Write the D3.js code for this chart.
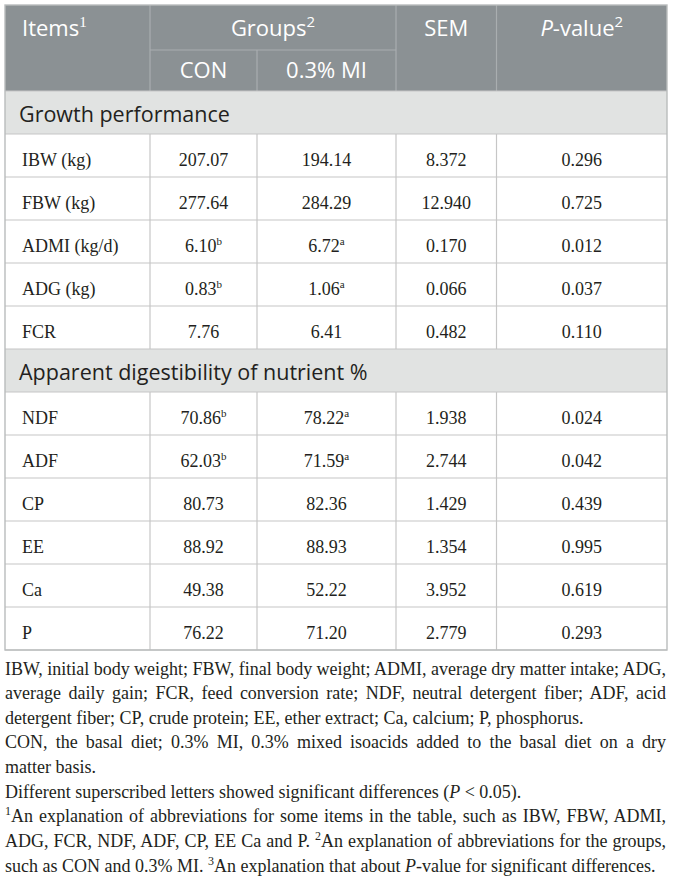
<!DOCTYPE html>
<html><head><meta charset="utf-8">
<script src="https://cdn.jsdelivr.net/npm/d3@7"></script>
<style>
html,body{margin:0;padding:0;background:#fff;}
svg{display:block;}
</style></head><body><div id="wrap"></div><script>
// ---------- data ----------
const sections = ["Growth performance", "Apparent digestibility of nutrient %"];
const items = ["IBW (kg)", "FBW (kg)", "ADMI (kg/d)", "ADG (kg)", "FCR", "NDF", "ADF", "CP", "EE", "Ca", "P"];
const itemSection = [0, 0, 0, 0, 0, 1, 1, 1, 1, 1, 1];
const conValues = [207.07, 277.64, 6.10, 0.83, 7.76, 70.86, 62.03, 80.73, 88.92, 49.38, 76.22];
const conSup = ["", "", "b", "b", "", "b", "b", "", "", "", ""];
const miValues = [194.14, 284.29, 6.72, 1.06, 6.41, 78.22, 71.59, 82.36, 88.93, 52.22, 71.20];
const miSup = ["", "", "a", "a", "", "a", "a", "", "", "", ""];
const semValues = [8.372, 12.940, 0.170, 0.066, 0.482, 1.938, 2.744, 1.429, 1.354, 3.952, 2.779];
const pValues = [0.296, 0.725, 0.012, 0.037, 0.110, 0.024, 0.042, 0.439, 0.995, 0.619, 0.293];
const groupLabels = ["CON", "0.3% MI"];
const columnKeys = ["item", "con", "mi", "sem", "p"];

const footnotes = [
  {segs: [{t: "IBW, initial body weight; FBW, final body weight; ADMI, average dry matter intake; ADG,"}], justify: true},
  {segs: [{t: "average daily gain; FCR, feed conversion rate; NDF, neutral detergent fiber; ADF, acid"}], justify: true},
  {segs: [{t: "detergent fiber; CP, crude protein; EE, ether extract; Ca, calcium; P, phosphorus."}], justify: false},
  {segs: [{t: "CON, the basal diet; 0.3% MI, 0.3% mixed isoacids added to the basal diet on a dry"}], justify: true},
  {segs: [{t: "matter basis."}], justify: false},
  {segs: [{t: "Different superscribed letters showed significant differences ("}, {t: "P", it: true}, {t: " < 0.05)."}], justify: false},
  {segs: [{t: "1", sup: true}, {t: "An explanation of abbreviations for some items in the table, such as IBW, FBW, ADMI,"}], justify: true},
  {segs: [{t: "ADG, FCR, NDF, ADF, CP, EE Ca and P. "}, {t: "2", sup: true}, {t: "An explanation of abbreviations for the groups,"}], justify: true},
  {segs: [{t: "such as CON and 0.3% MI. "}, {t: "3", sup: true}, {t: "An explanation that about "}, {t: "P", it: true}, {t: "-value for significant differences."}], justify: false}
];

// ---------- layout ----------
const W = 673, H = 880;
const sans = "'Open Sans', 'Noto Sans', sans-serif";
const serif = "'Liberation Serif', 'Times New Roman', serif";
const txt = "#231f20";
const headBg = "#8b9194", headLine = "#a9aeb0", secBg = "#e1e3e2", grid = "#c6c6c6";

const colEdges = [5, 150, 257, 396, 496.5, 667];
const tableTop = 5, headMid = 50, headBottom = 91, tableBottom = 650;

const rows = [];
sections.forEach((s, si) => {
  rows.push({type: "section", label: s});
  items.forEach((it, i) => { if (itemSection[i] === si) rows.push({type: "data", i}); });
});

const y = d3.scaleBand().domain(d3.range(rows.length)).range([headBottom, tableBottom]);
const colLeft = d3.scaleOrdinal().domain(columnKeys).range(colEdges.slice(0, 5));
const colRight = d3.scaleOrdinal().domain(columnKeys).range(colEdges.slice(1));
const colCenter = k => (colLeft(k) + colRight(k)) / 2;
const f2 = d3.format(".2f"), f3 = d3.format(".3f");

const svg = d3.select("#wrap").append("svg").attr("width", W).attr("height", H);

function rich(textSel, segs, opts) {
  opts = opts || {};
  const supSize = opts.supSize || 11, shift = opts.shift || 7;
  let raised = false;
  segs.forEach(s => {
    const ts = textSel.append("tspan").text(s.t);
    if (s.it) ts.attr("font-style", "italic");
    if (s.sup) {
      ts.attr("font-size", supSize).attr("dy", -shift);
      if (s.font) ts.attr("font-family", s.font);
      raised = true;
    } else if (raised) {
      ts.attr("dy", shift); raised = false;
    }
  });
  return textSel;
}

// ---------- header ----------
svg.append("rect").attr("x", colEdges[0]).attr("y", tableTop)
  .attr("width", colEdges[5] - colEdges[0]).attr("height", headBottom - tableTop).attr("fill", headBg);

const hl = svg.append("g").attr("stroke", headLine).attr("stroke-width", 1.2);
[colEdges[1], colEdges[3], colEdges[4]].forEach(x =>
  hl.append("line").attr("x1", x).attr("x2", x).attr("y1", tableTop).attr("y2", headBottom));
hl.append("line").attr("x1", colEdges[2]).attr("x2", colEdges[2]).attr("y1", headMid).attr("y2", headBottom);
hl.append("line").attr("x1", colEdges[1]).attr("x2", colEdges[3]).attr("y1", headMid).attr("y2", headMid);

const hg = svg.append("g").attr("font-family", sans).attr("font-size", 22).attr("fill", "#fff");
rich(hg.append("text").attr("x", 22).attr("y", 36),
  [{t: "Items"}, {t: "1", sup: true, font: serif}], {supSize: 15, shift: 9});
rich(hg.append("text").attr("x", (colEdges[1] + colEdges[3]) / 2).attr("y", 36).attr("text-anchor", "middle"),
  [{t: "Groups"}, {t: "2", sup: true}], {supSize: 15, shift: 9});
hg.append("text").attr("x", colCenter("sem")).attr("y", 36).attr("text-anchor", "middle").text("SEM");
rich(hg.append("text").attr("x", colCenter("p")).attr("y", 36).attr("text-anchor", "middle"),
  [{t: "P", it: true}, {t: "-value"}, {t: "2", sup: true}], {supSize: 15, shift: 9});
hg.selectAll("text.grp").data(groupLabels).join("text").attr("class", "grp")
  .attr("x", (d, i) => colCenter(i === 0 ? "con" : "mi")).attr("y", 78)
  .attr("text-anchor", "middle").text(d => d);

// ---------- body ----------
const rowG = svg.append("g").selectAll("g").data(rows).join("g")
  .attr("transform", (d, i) => `translate(0,${y(i)})`);

rowG.filter(d => d.type === "section").append("rect")
  .attr("x", colEdges[0]).attr("width", colEdges[5] - colEdges[0])
  .attr("height", y.bandwidth()).attr("fill", secBg);

// grid lines
const gl = svg.append("g").attr("stroke", grid).attr("stroke-width", 1.2);
d3.range(rows.length + 1).forEach(i => {
  const yy = i < rows.length ? y(i) : tableBottom;
  gl.append("line").attr("x1", colEdges[0]).attr("x2", colEdges[5]).attr("y1", yy).attr("y2", yy);
});
rows.forEach((r, i) => {
  if (r.type !== "data") return;
  colEdges.slice(1, 5).forEach(x =>
    gl.append("line").attr("x1", x).attr("x2", x).attr("y1", y(i)).attr("y2", y(i) + y.bandwidth()));
});
// outer border
svg.append("rect").attr("x", colEdges[0]).attr("y", tableTop)
  .attr("width", colEdges[5] - colEdges[0]).attr("height", tableBottom - tableTop)
  .attr("fill", "none").attr("stroke", "#b9bcbd").attr("stroke-width", 1.4);

rowG.filter(d => d.type === "section").append("text")
  .attr("x", 19).attr("y", 30.7).attr("font-family", sans).attr("font-size", 21.5)
  .attr("fill", txt).text(d => d.label);

const dataRows = rowG.filter(d => d.type === "data");
const bodyText = (sel, x, anchor) => sel.append("text").attr("x", x).attr("y", 32)
  .attr("font-family", serif).attr("font-size", 18).attr("fill", txt).attr("text-anchor", anchor);

dataRows.each(function(d) {
  const g = d3.select(this), i = d.i;
  bodyText(g, 22, "start").text(items[i]);
  rich(bodyText(g, colCenter("con"), "middle"), [{t: f2(conValues[i])}].concat(conSup[i] ? [{t: conSup[i], sup: true}] : []));
  rich(bodyText(g, colCenter("mi"), "middle"), [{t: f2(miValues[i])}].concat(miSup[i] ? [{t: miSup[i], sup: true}] : []));
  bodyText(g, colCenter("sem"), "middle").text(f3(semValues[i]));
  bodyText(g, colCenter("p"), "middle").text(f3(pValues[i]));
});

// ---------- footnotes ----------
const fnLeft = 5, fnWidth = 661, fnBase = 674.5, fnStep = 24.65;
const fg = svg.append("g").attr("font-family", serif).attr("font-size", 18).attr("fill", txt);
footnotes.forEach((ln, k) => {
  const t = fg.append("text").attr("x", fnLeft).attr("y", fnBase + k * fnStep);
  rich(t, ln.segs, {supSize: 12, shift: 7});
  if (ln.justify) {
    const w = t.node().getComputedTextLength();
    const full = ln.segs.map(s => s.t).join("");
    const spaces = (full.match(/ /g) || []).length;
    if (spaces > 0) t.style("word-spacing", ((fnWidth - w) / spaces) + "px");
  }
});
</script></body></html>
